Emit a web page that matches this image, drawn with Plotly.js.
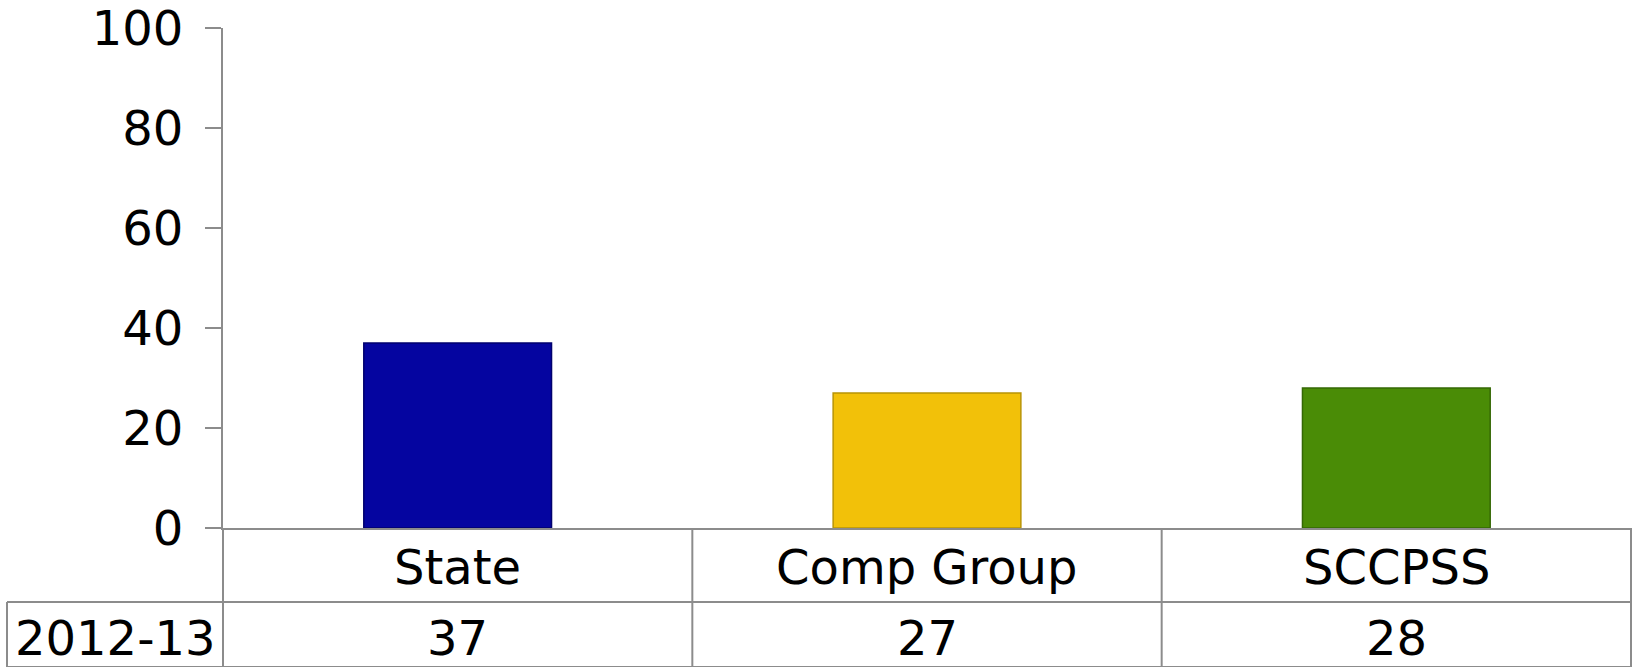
<!DOCTYPE html>
<html>
<head>
<meta charset="utf-8">
<script src="https://cdn.plot.ly/plotly-3.0.1.min.js"></script>
<style>html,body{margin:0;padding:0;background:#fff;}#chart{width:1633px;height:667px;}</style>
</head>
<body>
<div id="chart"></div>
<script>
const categories = ["State", "Comp Group", "SCCPSS"];
const values = [37, 27, 28];
const seriesName = "2012-13";
const barColors = ["#0505a0", "#f2c109", "#4a8c06"];
const barLineColors = ["#01016e", "#b89406", "#356805"];
const yTicks = [0, 20, 40, 60, 80, 100];

const FONT = "DejaVu Sans, Verdana, sans-serif";
const FSIZE = 48;
const GRID = "#8c8c8c";

// table geometry in paper units (plot area: x 223..1631, y 28..528 of 667)
const rowTop = 0, rowMid = -0.148, rowBot = -0.278, leftX = -0.1534;

const shapes = [];
shapes.push({type:"line", xref:"paper", yref:"paper", x0:leftX, x1:1, y0:rowMid, y1:rowMid, line:{color:GRID, width:2}});
shapes.push({type:"line", xref:"paper", yref:"paper", x0:leftX, x1:1, y0:rowBot, y1:rowBot, line:{color:GRID, width:2}});
shapes.push({type:"line", xref:"paper", yref:"paper", x0:leftX, x1:leftX, y0:rowMid, y1:rowBot, line:{color:GRID, width:2}});
shapes.push({type:"line", xref:"paper", yref:"paper", x0:0, x1:0, y0:rowTop, y1:rowBot, line:{color:GRID, width:2}});
for (let i = 0; i < categories.length - 1; i++) {
  shapes.push({type:"line", xref:"x", yref:"paper", x0:i + 0.5, x1:i + 0.5, y0:rowTop, y1:rowBot, line:{color:GRID, width:2}});
}
shapes.push({type:"line", xref:"paper", yref:"paper", x0:1, x1:1, y0:rowTop, y1:rowBot, line:{color:GRID, width:2}});

const annotations = [];
annotations.push({xref:"paper", yref:"paper", x:leftX / 2, y:(rowMid + rowBot) / 2 - 0.006, text:seriesName, showarrow:false,
  xanchor:"center", yanchor:"middle", font:{family:FONT, size:FSIZE, color:"#000"}});
categories.forEach((c, i) => {
  annotations.push({xref:"x", yref:"paper", x:c, y:(rowMid + rowBot) / 2 - 0.006, text:String(values[i]), showarrow:false,
    xanchor:"center", yanchor:"middle", font:{family:FONT, size:FSIZE, color:"#000"}});
});
// category names in the first table row
categories.forEach((c) => {
  annotations.push({xref:"x", yref:"paper", x:c, y:(rowTop + rowMid) / 2 - 0.004, text:c, showarrow:false,
    xanchor:"center", yanchor:"middle", font:{family:FONT, size:FSIZE, color:"#000"}});
});

const trace = {
  type: "bar",
  x: categories,
  y: values,
  name: seriesName,
  width: 0.4,
  marker: {color: barColors, line: {color: barLineColors, width: 1.5}},
  hoverinfo: "none",
  cliponaxis: false
};

const layout = {
  width: 1633,
  height: 667,
  margin: {l: 223, r: 2, t: 28, b: 139},
  paper_bgcolor: "#fff",
  plot_bgcolor: "#fff",
  showlegend: false,
  xaxis: {
    type: "category",
    showline: true, linecolor: GRID, linewidth: 2,
    ticks: "", showgrid: false,
    showticklabels: false,
    fixedrange: true
  },
  yaxis: {
    range: [0, 100],
    tickvals: yTicks,
    ticktext: yTicks.map(String),
    showline: true, linecolor: GRID, linewidth: 2,
    ticks: "outside", ticklen: 16, tickcolor: GRID, tickwidth: 2,
    showgrid: false, zeroline: false,
    tickfont: {family: FONT, size: FSIZE, color: "#000"},
    ticklabelstandoff: 12,
    ticklabeloverflow: "allow",
    automargin: false,
    fixedrange: true
  },
  shapes: shapes,
  annotations: annotations
};

Plotly.newPlot("chart", [trace], layout, {displayModeBar: false, staticPlot: true});
</script>
</body>
</html>
